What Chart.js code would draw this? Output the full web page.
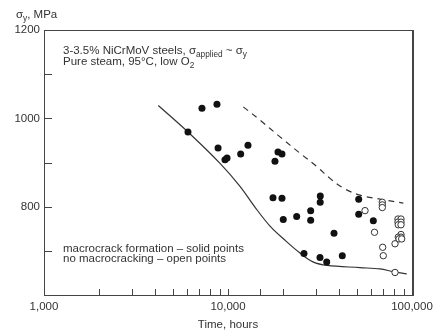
<!DOCTYPE html>
<html>
<head>
<meta charset="utf-8">
<script src="https://cdn.jsdelivr.net/npm/chart.js@4"></script>
<style>
  body { margin: 0; background: #fff; }
  #wrap { width: 440px; height: 335px; }
</style>
</head>
<body>
<div id="wrap"><canvas id="stressChart"></canvas></div>
<script>
// macrocrack formation - solid points (time in hours, stress in MPa)
const solidTime = [6060, 7220, 8710, 8830, 9630, 9880, 11720, 12840, 18690, 19650, 18000,
  17560, 19650, 19970, 23620, 28140, 28140, 31740, 31700, 51320, 51320, 61630, 37680,
  25880, 31620, 34390, 41800];
const solidStress = [969, 1023, 1032, 933, 906, 910, 919, 939, 924, 919, 903,
  820, 819, 771, 778, 791, 769, 824, 810, 817, 783, 768, 740,
  694, 685, 675, 689];

// no macrocracking - open points
const openTime = [55550, 62550, 68950, 68950, 68950, 69300, 69820, 80850, 80850,
  83900, 87140, 83900, 87140, 84230, 87140, 87140, 84230, 87140, 85000, 87900];
const openStress = [791, 742, 810, 804, 798, 708, 689, 651, 716,
  772, 772, 765, 765, 759, 759, 737, 731, 731, 727, 727];

// lower bound curve (solid)
const lowerTime = [4180, 6060, 9050, 11620, 14010, 16920, 20660, 24620, 28970, 34510, 52170, 67000, 79140, 93580];
const lowerStress = [1029, 969, 898, 846, 799, 756, 722, 695, 675, 667, 662, 659, 653, 648];

// upper bound curve (dashed)
const upperTime = [12110, 14930, 19170, 24620, 30350, 35840, 42330, 52170, 67000, 89690];
const upperStress = [1026, 996, 958, 921, 891, 864, 842, 826, 817, 808];

const yLabels = [800, 1000, 1200];
const xLabels = [1000, 10000, 100000];

const FONT = '"Liberation Sans", Arial, sans-serif';
const TXT = '#333';

function pts(xs, ys) {
  return xs.map((v, i) => ({ x: v, y: ys[i] }));
}

// text with subscripts: parts = [[text, isSub], ...]
function drawRich(ctx, x, y, parts, size) {
  let cx = x;
  parts.forEach(p => {
    const sub = p[1];
    ctx.font = (sub ? size * 0.72 : size) + 'px ' + FONT;
    ctx.fillText(p[0], cx, sub ? y + 3 : y);
    cx += ctx.measureText(p[0]).width;
  });
}

const frame = {
  id: 'frame',
  afterDraw(chart) {
    const { ctx, chartArea: a, scales: { x, y } } = chart;
    ctx.save();
    ctx.strokeStyle = '#444';
    ctx.lineWidth = 1;
    ctx.beginPath();
    y.ticks.forEach(t => {
      const py = Math.round(y.getPixelForValue(t.value)) + 0.5;
      ctx.moveTo(a.left, py);
      ctx.lineTo(a.left + 8, py);
    });
    x.ticks.forEach(t => {
      const px = Math.round(x.getPixelForValue(t.value)) + 0.5;
      ctx.moveTo(px, a.bottom);
      ctx.lineTo(px, a.bottom - 6);
    });
    ctx.stroke();
    ctx.strokeRect(Math.round(a.left) + 0.5, Math.round(a.top) + 0.5, Math.round(a.width), Math.round(a.height));
    ctx.lineWidth = 2;
    ctx.beginPath();
    ctx.moveTo(Math.round(a.right) + 1, a.top);
    ctx.lineTo(Math.round(a.right) + 1, a.bottom + 1);
    ctx.stroke();

    ctx.fillStyle = TXT;
    ctx.textBaseline = 'alphabetic';
    drawRich(ctx, 16, 17.5, [['\u03c3'], ['y', 1], [', MPa']], 11.5);
    drawRich(ctx, 63, 54, [['3-3.5% NiCrMoV steels, \u03c3'], ['applied', 1], [' ~ \u03c3'], ['y', 1]], 11.5);
    drawRich(ctx, 63, 64.5, [['Pure steam, 95\u00b0C, low O'], ['2', 1]], 11.5);
    drawRich(ctx, 63, 251.7, [['macrocrack formation \u2013 solid points']], 11.5);
    drawRich(ctx, 63, 262, [['no macrocracking \u2013 open points']], 11.5);
    ctx.restore();
  }
};

new Chart(document.getElementById('stressChart'), {
  type: 'scatter',
  data: {
    datasets: [
      {
        data: pts(openTime, openStress),
        pointRadius: 3.2,
        pointBackgroundColor: '#fff',
        pointBorderColor: '#333',
        pointBorderWidth: 1
      },
      {
        data: pts(solidTime, solidStress),
        pointRadius: 3.5,
        pointBackgroundColor: '#111',
        pointBorderColor: '#111',
        pointBorderWidth: 0
      },
      {
        data: pts(lowerTime, lowerStress),
        showLine: true,
        pointRadius: 0,
        borderColor: '#333',
        borderWidth: 1.2,
        tension: 0.35
      },
      {
        data: pts(upperTime, upperStress),
        showLine: true,
        pointRadius: 0,
        borderColor: '#333',
        borderWidth: 1.2,
        borderDash: [6, 5],
        tension: 0.35
      }
    ]
  },
  options: {
    responsive: true,
    maintainAspectRatio: false,
    animation: false,
    layout: { padding: { left: 0, top: 30, right: 28, bottom: 0 } },
    plugins: { legend: { display: false }, tooltip: { enabled: false } },
    scales: {
      x: {
        type: 'logarithmic',
        min: 1000,
        max: 100000,
        grid: { display: false, drawTicks: false },
        border: { display: false },
        ticks: {
          autoSkip: false,
          maxRotation: 0,
          padding: 5,
          color: TXT,
          font: { family: FONT, size: 11.5 },
          callback: v => xLabels.includes(v) ? v.toLocaleString('en-US') : ''
        },
        title: {
          display: true,
          text: 'Time, hours',
          color: TXT,
          font: { family: FONT, size: 11.5 },
          padding: { top: 0, bottom: 3 }
        },
        afterFit: s => { s.height = 40; }
      },
      y: {
        min: 600,
        max: 1200,
        grid: { display: false, drawTicks: false },
        border: { display: false },
        ticks: {
          stepSize: 100,
          padding: 4,
          color: TXT,
          font: { family: FONT, size: 11.5 },
          callback: v => yLabels.includes(v) ? String(v) : ''
        },
        afterFit: s => { s.width = 44; }
      }
    }
  },
  plugins: [frame]
});
</script>
</body>
</html>
